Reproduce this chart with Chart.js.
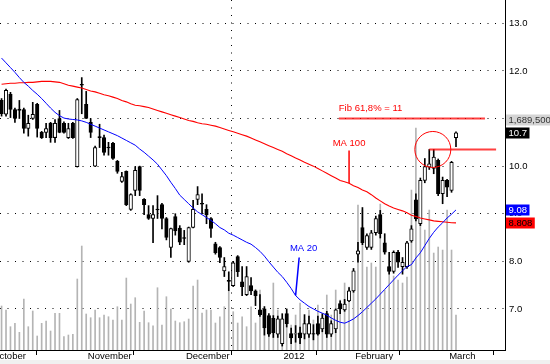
<!DOCTYPE html>
<html lang="en">
<head>
  <meta charset="UTF-8">
  <title>Daily candles with MA 20 / MA 100</title>
  <script src="https://cdn.jsdelivr.net/npm/chart.js"></script>
  <style>
    body { margin: 0; background-color: #f0f0f0; }
    #wrap { width: 550px; height: 360px; background: #fff; }
  </style>
</head>
<body>
  <div id="wrap"><canvas id="priceChart" width="550" height="360"></canvas></div>
  <script>
    // one entry per session, index 0 = first session shown (mid October)
    const opens = [11.38,11.09,11.51,11.19,11.20,11.19,10.79,11.00,11.30,10.71,
      10.71,10.90,10.60,11.00,10.90,10.60,10.90,9.99,11.72,11.30,
      10.92,10.00,10.62,10.60,10.40,10.48,10.10,9.68,9.89,9.09,
      9.49,9.99,9.30,8.98,8.90,9.10,9.19,8.90,8.29,8.94,
      8.70,8.50,8.00,8.71,9.30,9.22,9.09,8.90,8.37,8.29,
      7.80,7.60,7.49,8.10,7.57,7.30,7.49,7.38,6.98,7.00,
      6.86,6.80,6.47,6.27,6.90,6.48,6.47,6.50,6.47,6.47,
      6.48,6.69,6.58,6.90,6.47,6.58,7.11,6.98,7.17,7.38,
      8.15,8.71,8.29,8.29,8.60,8.98,8.39,7.89,7.79,8.19,
      7.89,7.89,8.43,9.29,8.79,9.70,9.98,9.95,10.12,9.42,
      9.70,9.49,10.60];
    const highs = [11.42,11.62,11.55,11.22,11.38,11.22,11.07,11.34,11.32,10.73,
      10.90,10.92,10.98,11.17,10.93,10.90,10.92,11.42,11.86,11.57,
      11.00,10.42,10.88,10.65,10.50,10.50,10.12,9.87,9.90,9.42,
      9.99,10.00,9.32,9.17,9.17,9.38,9.22,8.92,8.70,9.00,
      8.75,8.65,8.72,9.28,9.57,9.42,9.19,8.92,8.40,8.31,
      8.08,7.78,8.00,8.12,7.89,7.89,7.66,7.40,7.30,7.05,
      6.90,6.86,6.85,6.90,7.00,6.60,6.65,6.62,6.88,6.85,
      6.67,6.85,6.90,6.95,6.75,7.00,7.17,7.20,7.45,7.85,
      8.40,9.13,8.58,8.65,8.95,9.07,8.58,8.19,8.22,8.23,
      8.08,8.42,8.75,9.42,9.75,10.16,10.35,10.35,10.15,9.77,
      9.72,10.10,10.72];
    const lows = [11.05,11.05,11.02,10.92,11.00,10.69,10.63,10.98,10.61,10.58,
      10.60,10.50,10.50,10.70,10.69,10.58,10.58,9.98,11.10,11.00,
      10.60,9.99,10.39,10.23,10.23,10.14,9.85,9.66,9.17,9.07,
      9.38,9.38,8.98,8.88,8.39,8.90,8.68,8.45,8.08,8.55,
      8.35,8.35,7.98,8.70,9.19,9.00,8.79,8.50,8.15,7.97,
      7.68,7.38,7.47,7.68,7.28,7.28,7.30,7.07,6.84,6.45,
      6.42,6.40,6.40,6.22,6.62,6.27,6.30,6.27,6.37,6.40,
      6.35,6.45,6.52,6.40,6.42,6.50,6.90,6.95,7.15,7.35,
      7.98,8.35,8.25,8.25,8.55,8.49,8.15,7.73,7.75,7.87,
      7.73,7.85,8.40,8.85,8.75,9.65,9.93,9.84,9.38,9.21,
      9.36,9.45,10.41];
    const closes = [11.10,11.59,11.19,11.00,11.17,10.79,10.90,11.09,10.79,10.60,
      10.79,10.60,10.90,10.71,10.71,10.79,10.60,11.40,11.70,11.00,
      10.71,10.39,10.60,10.29,10.38,10.16,9.89,9.78,9.19,9.40,
      9.91,9.49,9.19,8.90,8.98,9.08,8.90,8.50,8.69,8.64,
      8.40,8.48,8.71,9.09,9.40,9.20,8.98,8.69,8.18,8.08,
      7.89,7.58,7.97,7.78,7.47,7.68,7.38,7.28,6.88,6.60,
      6.47,6.50,6.79,6.79,6.69,6.39,6.48,6.39,6.69,6.69,
      6.47,6.47,6.81,6.47,6.69,6.98,7.00,7.10,7.38,7.80,
      8.22,8.39,8.54,8.60,8.90,8.58,8.19,7.79,8.19,7.98,
      7.98,8.39,8.68,8.89,9.70,9.99,10.05,10.19,9.42,9.70,
      9.56,10.08,10.70];
    // volume in thousands of shares
    const volumes = [2124,1931,1125,1289,854,2462,1125,1883,676,1289,
      1400,917,1772,1772,642,724,758,3427,5020,1738,
      1559,1931,1559,1689,1607,1448,2090,1448,3475,2220,
      2525,1337,1883,1318,1173,3007,1207,2573,1979,1400,
      1318,1366,1496,3089,3379,1786,1931,1931,1303,1607,
      2090,2814,1849,1303,1607,1125,2090,1303,2896,1303,
      1593,3234,1931,1448,1448,1207,1689,2269,1448,1931,
      1448,2172,1689,2655,1689,2896,2414,3234,3041,3475,
      7000,6758,4006,4200,4006,7047,2896,4006,3572,3379,
      3234,3524,7723,10716,6854,5792,6758,4682,4972,4827,
      6758,4827,1689.5];
    const ma20 = [12.27,12.17,12.07,11.97,11.86,11.76,11.68,11.59,11.51,11.42,
      11.32,11.22,11.13,11.06,11.01,10.99,10.98,10.97,10.95,10.92,
      10.88,10.84,10.80,10.76,10.72,10.68,10.64,10.59,10.54,10.49,
      10.44,10.36,10.29,10.21,10.13,10.04,9.92,9.80,9.66,9.53,
      9.39,9.30,9.21,9.12,9.04,8.98,8.92,8.86,8.79,8.71,
      8.66,8.59,8.55,8.50,8.45,8.40,8.36,8.29,8.21,8.11,
      7.99,7.88,7.77,7.68,7.56,7.43,7.28,7.19,7.12,7.05,
      7.00,6.95,6.91,6.87,6.81,6.76,6.72,6.70,6.74,6.79,
      6.86,6.94,7.03,7.12,7.21,7.31,7.41,7.51,7.61,7.71,
      7.80,7.89,7.93,8.07,8.18,8.33,8.48,8.61,8.72,8.81,
      8.91,8.99,9.08];
    const ma100 = [11.72,11.73,11.74,11.74,11.75,11.75,11.76,11.76,11.77,11.78,
      11.78,11.78,11.77,11.76,11.73,11.70,11.68,11.66,11.64,11.61,
      11.58,11.56,11.53,11.50,11.48,11.45,11.42,11.38,11.35,11.31,
      11.28,11.27,11.25,11.23,11.20,11.17,11.14,11.11,11.08,11.05,
      11.02,10.99,10.96,10.94,10.91,10.89,10.88,10.86,10.84,10.81,
      10.78,10.75,10.72,10.69,10.66,10.63,10.59,10.55,10.51,10.47,
      10.43,10.39,10.35,10.31,10.26,10.22,10.17,10.13,10.08,10.04,
      10.00,9.95,9.90,9.85,9.80,9.75,9.70,9.67,9.64,9.59,
      9.55,9.50,9.46,9.40,9.33,9.27,9.21,9.16,9.12,9.09,
      9.06,9.02,8.97,8.94,8.91,8.89,8.87,8.85,8.84,8.83,
      8.82,8.81,8.808];

    // month boundaries on the session axis, and their labels
    const monthTicks = [-2.8, 18.7, 40.7, 62.6, 78.7, 99.8];
    const monthLabels = ['October', 'November', 'December', '2012', 'February', 'March'];
    const yearTick = 62.6;
    const priceTicks = [7, 8, 9, 10, 11, 12, 13];

    // annotations, in session / price units
    const fibNote = { level: 11, from: 75.7, to: 108.5, text: 'Fib 61,8% = 11', textAt: 11.21 };
    const breakNote = { level: 10.35, from: 96, to: 111, circleAt: 96.8 };
    const ma100Note = { text: 'MA 100', at: 78, textAt: 10.48, lineTop: 10.33 };
    const ma20Note = { text: 'MA 20', at: 67.8, textAt: 8.27, lineTop: 8.08, lineTopAt: 66.8, lineEnd: 66 };

    const last = closes.length - 1;
    const red = '#ff0000', blue = '#0000ff';

    Chart.defaults.font.family = '"Liberation Sans", Arial, sans-serif';
    Chart.defaults.color = '#000';

    const annotate = {
      id: 'annotate',
      afterDatasetsDraw(chart) {
        const { ctx } = chart;
        const x = chart.scales.x, y = chart.scales.y;
        const px = v => x.getPixelForValue(v), py = v => y.getPixelForValue(v);
        const seg = (x1, y1, x2, y2) => { ctx.beginPath(); ctx.moveTo(x1, y1); ctx.lineTo(x2, y2); ctx.stroke(); };
        ctx.save();
        ctx.font = '9.5px "Liberation Sans", Arial, sans-serif';
        ctx.textBaseline = 'middle';

        // Fibonacci level
        ctx.strokeStyle = 'rgba(255,0,0,0.75)';
        ctx.lineWidth = 2;
        seg(px(fibNote.from), py(fibNote.level), px(fibNote.to), py(fibNote.level));
        ctx.fillStyle = red;
        ctx.textAlign = 'left';
        ctx.fillText(fibNote.text, px(fibNote.from), py(fibNote.textAt));

        // breakout level and circle
        seg(px(breakNote.from), py(breakNote.level), px(breakNote.to), py(breakNote.level));
        ctx.strokeStyle = red;
        ctx.lineWidth = 1;
        ctx.beginPath();
        ctx.arc(px(breakNote.circleAt), py(breakNote.level), 18, 0, Math.PI * 2);
        ctx.stroke();

        // MA 100 label
        ctx.lineWidth = 1.5;
        ctx.textAlign = 'center';
        ctx.fillText(ma100Note.text, px(ma100Note.at), py(ma100Note.textAt));
        seg(px(ma100Note.at), py(ma100Note.lineTop), px(ma100Note.at), py(ma100[ma100Note.at]));

        // MA 20 label
        ctx.strokeStyle = blue;
        ctx.fillStyle = blue;
        ctx.fillText(ma20Note.text, px(ma20Note.at), py(ma20Note.textAt));
        seg(px(ma20Note.lineTopAt), py(ma20Note.lineTop), px(ma20Note.lineEnd), py(ma20[ma20Note.lineEnd]));
        ctx.restore();
      },
      afterDraw(chart) {
        // value boxes on the price axis
        const { ctx, chartArea } = chart;
        const y = chart.scales.y;
        const boxes = [
          { value: 10.96, text: (volumes[last] * 1000).toLocaleString('en-US'), bg: '#d4d4d4', fg: '#333' },
          { value: closes[last], text: String(closes[last]), bg: '#000', fg: '#fff' },
          { value: ma20[last], text: String(ma20[last]), bg: blue, fg: '#fff' },
          { value: ma100[last], text: String(ma100[last]), bg: red, fg: '#000' }
        ];
        ctx.save();
        ctx.font = '9.5px "Liberation Sans", Arial, sans-serif';
        ctx.textBaseline = 'middle';
        ctx.textAlign = 'left';
        boxes.forEach(b => {
          const cy = y.getPixelForValue(b.value);
          const w = ctx.measureText(b.text).width + 5;
          ctx.fillStyle = b.bg;
          ctx.fillRect(chartArea.right + 1, Math.round(cy) - 5.5, w, 11);
          ctx.fillStyle = b.fg;
          ctx.fillText(b.text, chartArea.right + 3.5, Math.round(cy));
        });
        ctx.restore();
      }
    };

    const up = i => closes[i] >= opens[i];

    new Chart(document.getElementById('priceChart'), {
      type: 'bar',
      data: {
        datasets: [
          {
            type: 'line', label: 'MA 20',
            data: ma20.map((v, i) => ({ x: i, y: v })),
            borderColor: blue, borderWidth: 1, pointRadius: 0, order: 1
          },
          {
            type: 'line', label: 'MA 100',
            data: ma100.map((v, i) => ({ x: i, y: v })),
            borderColor: red, borderWidth: 1.1, pointRadius: 0, order: 1
          },
          {
            label: 'Body',
            data: opens.map((o, i) => ({ x: i, y: [o, closes[i]] })),
            backgroundColor: ctx => up(ctx.dataIndex) ? '#fff' : '#000',
            borderColor: '#000', borderWidth: 1, borderSkipped: false,
            barThickness: 3.5, grouped: false, order: 2
          },
          {
            label: 'Range',
            data: lows.map((l, i) => ({ x: i, y: [l, highs[i]] })),
            backgroundColor: '#000', barThickness: 1, grouped: false, order: 3
          },
          {
            label: 'Volume', yAxisID: 'vol',
            data: volumes.map((v, i) => ({ x: i, y: v })),
            backgroundColor: '#b4b4b4', barThickness: 1, grouped: false, order: 4
          }
        ]
      },
      options: {
        responsive: false,
        animation: false,
        layout: { padding: 0 },
        plugins: { legend: { display: false }, tooltip: { enabled: false } },
        scales: {
          x: {
            type: 'linear', min: -0.35, max: 113, offset: false,
            afterBuildTicks: ax => { ax.ticks = monthTicks.map(v => ({ value: v })); },
            afterFit: ax => { ax.height = 10; ax.paddingLeft = 0; ax.paddingRight = 0; },
            ticks: {
              autoSkip: false, maxRotation: 0, align: 'start', labelOffset: 3, padding: -4.5,
              font: { size: 9.5 }, callback: (v, i) => monthLabels[i]
            },
            grid: {
              color: c => c.tick && c.tick.value === yearTick ? '#000' : 'rgba(0,0,0,0)',
              tickColor: '#000', tickLength: 5
            },
            border: { color: '#000', dash: [1, 6.5] }
          },
          y: {
            position: 'right', min: 6.137, max: 13.49,
            afterBuildTicks: ax => { ax.ticks = priceTicks.map(v => ({ value: v })); },
            afterFit: ax => { ax.width = 45; ax.paddingTop = 0; ax.paddingBottom = 0; },
            ticks: { padding: 4, font: { size: 9.5 }, callback: v => v.toFixed(1) },
            grid: { color: '#000', drawTicks: false },
            border: { color: '#000', dash: [1, 6.5] }
          },
          vol: { display: false, min: 0, max: 16900 }
        }
      },
      plugins: [annotate]
    });
  </script>
</body>
</html>
